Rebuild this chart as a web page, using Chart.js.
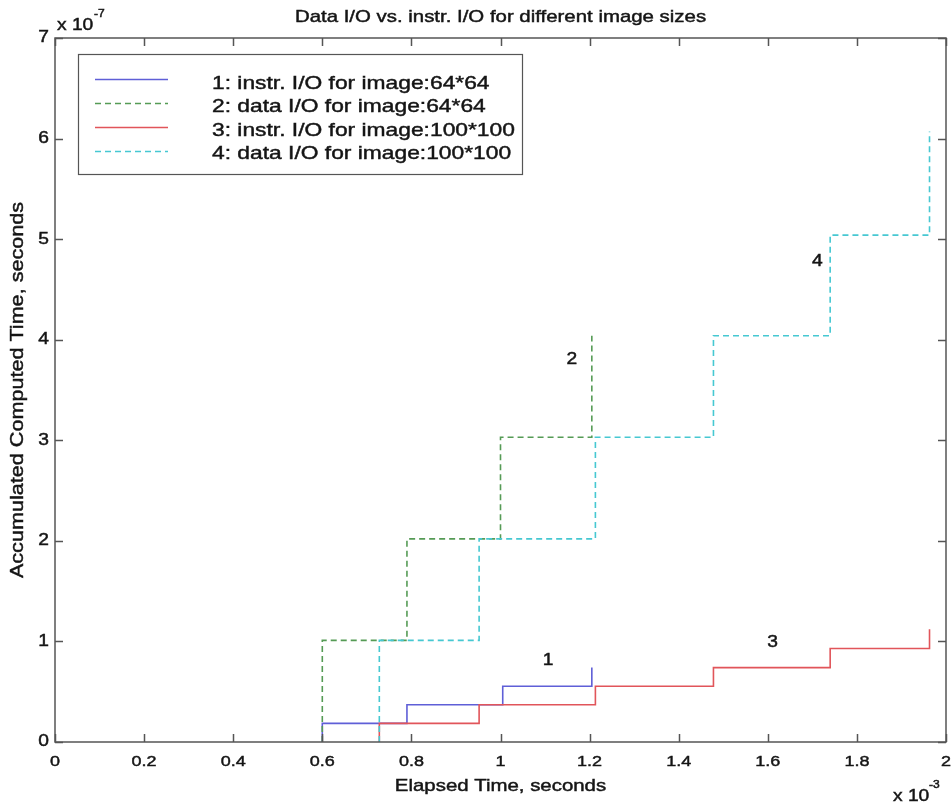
<!DOCTYPE html>
<html>
<head>
<meta charset="utf-8">
<title>Data I/O vs. instr. I/O for different image sizes</title>
<script src="https://cdn.jsdelivr.net/npm/chart.js@4.4.1/dist/chart.umd.min.js"></script>
<style>
    html, body { margin: 0; padding: 0; background: #fff; }
    canvas { display: block; }
</style>
</head>
<body>
<canvas id="graphique" width="951" height="808"></canvas>
<script>
// x : elapsed time where each stair step happens (x 10^-3 s)
// y : accumulated computed time reached at that step (x 10^-7 s)
const instr64X = [0.6, 0.79, 1.005, 1.205]
const instr64Y = [0.185, 0.37, 0.555, 0.74]
const data64X = [0.6, 0.79, 1.0, 1.205]
const data64Y = [1.01, 2.02, 3.03, 4.04]
const instr100X = [0.728, 0.952, 1.213, 1.478, 1.74, 1.963]
const instr100Y = [0.185, 0.37, 0.555, 0.74, 0.93, 1.12]
const data100X = [0.728, 0.952, 1.213, 1.478, 1.74, 1.963]
const data100Y = [1.01, 2.02, 3.03, 4.04, 5.04, 6.07]

const seriesNames = [
    "1: instr. I/O for image:64*64",
    "2: data I/O for image:64*64",
    "3: instr. I/O for image:100*100",
    "4: data I/O for image:100*100"
]
const seriesColors = ["rgb(95, 95, 215)", "rgb(85, 155, 85)", "rgb(225, 85, 90)", "rgb(70, 200, 210)"]
const seriesDash = [[], [6, 4], [], [6, 4]]

// curve numbers written next to the stairs
const curveLabels = ["1", "2", "3", "4"]
const curveLabelX = [1.107, 1.16, 1.611, 1.711]
const curveLabelY = [0.81, 3.8, 0.99, 4.78]

const titre = "Data I/O vs. instr. I/O for different image sizes"
const titreX = "Elapsed Time, seconds"
const titreY = "Accumulated Computed Time, seconds"

const STRETCH = 1.2
const police = "'Liberation Sans', Arial, Helvetica, sans-serif"

function escalier(xs, ys) {
    const points = [{ x: xs[0], y: 0 }]
    for (let i = 0; i < xs.length; i++) {
        points.push({ x: xs[i], y: ys[i] })
    }
    return points
}

function texte(ctx, str, x, y, align, taille, rotation) {
    ctx.save()
    ctx.translate(x, y)
    if (rotation) ctx.rotate(rotation)
    ctx.scale(STRETCH, 1)
    ctx.font = `${taille}px ${police}`
    ctx.textAlign = align
    ctx.strokeStyle = ctx.fillStyle
    ctx.lineWidth = 0.45
    ctx.fillText(str, 0, 0)
    ctx.strokeText(str, 0, 0)
    ctx.restore()
}

function etiquette(v) {
    return String(Math.round(v * 10) / 10)
}

const cadreMatlab = {
    id: "cadreMatlab",
    afterDraw(chart) {
        const ctx = chart.ctx
        const { left, right, top, bottom } = chart.chartArea
        const xScale = chart.scales.x
        const yScale = chart.scales.y

        ctx.save()
        // frame and inner ticks
        ctx.strokeStyle = "#555"
        ctx.lineWidth = 1.5
        ctx.strokeRect(left, top, right - left, bottom - top)
        ctx.beginPath()
        for (const t of xScale.ticks) {
            const px = Math.round(xScale.getPixelForValue(t.value)) + 0.5
            ctx.moveTo(px, bottom); ctx.lineTo(px, bottom - 8)
            ctx.moveTo(px, top); ctx.lineTo(px, top + 8)
        }
        for (const t of yScale.ticks) {
            const py = Math.round(yScale.getPixelForValue(t.value)) + 0.5
            ctx.moveTo(left, py); ctx.lineTo(left + 8, py)
            ctx.moveTo(right, py); ctx.lineTo(right - 8, py)
        }
        ctx.stroke()

        ctx.fillStyle = "#151515"
        ctx.textBaseline = "middle"
        for (const t of xScale.ticks) {
            texte(ctx, etiquette(t.value), xScale.getPixelForValue(t.value), bottom + 20, "center", 15)
        }
        for (const t of yScale.ticks) {
            texte(ctx, etiquette(t.value), left - 6, yScale.getPixelForValue(t.value), "right", 16)
        }

        // titles
        texte(ctx, titre, (left + right) / 2, 17, "center", 17)
        texte(ctx, titreX, (left + right) / 2, 786, "center", 17)
        texte(ctx, titreY, 18, (top + bottom) / 2, "center", 18, -Math.PI / 2)

        // scale multipliers
        texte(ctx, "x 10", left + 2, 26, "left", 16)
        texte(ctx, "-7", left + 39, 14, "left", 10)
        texte(ctx, "x 10", right - 53, 797, "left", 16)
        texte(ctx, "-3", right - 17, 785, "left", 10)

        // curve numbers
        for (let i = 0; i < curveLabels.length; i++) {
            texte(ctx, curveLabels[i], xScale.getPixelForValue(curveLabelX[i]),
                yScale.getPixelForValue(curveLabelY[i]), "center", 16)
        }

        // legend box
        const boxLeft = 78, boxTop = 54, boxWidth = 444, boxHeight = 120
        ctx.fillStyle = "#fff"
        ctx.fillRect(boxLeft, boxTop, boxWidth, boxHeight)
        ctx.strokeStyle = "#555"
        ctx.lineWidth = 1.2
        ctx.strokeRect(boxLeft + 0.5, boxTop + 0.5, boxWidth, boxHeight)
        for (let i = 0; i < seriesNames.length; i++) {
            const ly = 79.5 + i * 24
            ctx.strokeStyle = seriesColors[i]
            ctx.lineWidth = 1.5
            ctx.setLineDash(seriesDash[i])
            ctx.beginPath()
            ctx.moveTo(95, ly)
            ctx.lineTo(168, ly)
            ctx.stroke()
            ctx.setLineDash([])
            ctx.fillStyle = "#151515"
            ctx.textBaseline = "alphabetic"
            texte(ctx, seriesNames[i], 212, 88.5 + i * 23.5, "left", 19)
        }
        ctx.restore()
    }
}

const seriesX = [instr64X, data64X, instr100X, data100X]
const seriesY = [instr64Y, data64Y, instr100Y, data100Y]

const datasets = seriesNames.map((nom, i) => ({
    label: nom,
    data: escalier(seriesX[i], seriesY[i]),
    borderColor: seriesColors[i],
    borderWidth: 1.6,
    borderDash: seriesDash[i],
    stepped: "before",
    pointRadius: 0,
    fill: false,
    order: 4 - i
}))

const config = {
    type: "line",
    data: { datasets: datasets },
    options: {
        responsive: false,
        animation: false,
        layout: { padding: { top: 38, right: 5, bottom: 0, left: 0 } },
        plugins: {
            legend: { display: false },
            title: { display: false },
            tooltip: { enabled: false }
        },
        scales: {
            x: {
                type: "linear",
                min: 0,
                max: 2,
                ticks: { display: false, stepSize: 0.2 },
                grid: { display: false },
                border: { display: false },
                afterFit: (scale) => { scale.height = 66 }
            },
            y: {
                type: "linear",
                min: 0,
                max: 7,
                ticks: { display: false, stepSize: 1 },
                grid: { display: false },
                border: { display: false },
                afterFit: (scale) => { scale.width = 55 }
            }
        }
    },
    plugins: [cadreMatlab]
}

const graphique = new Chart(document.querySelector("#graphique"), config)
</script>
</body>
</html>
